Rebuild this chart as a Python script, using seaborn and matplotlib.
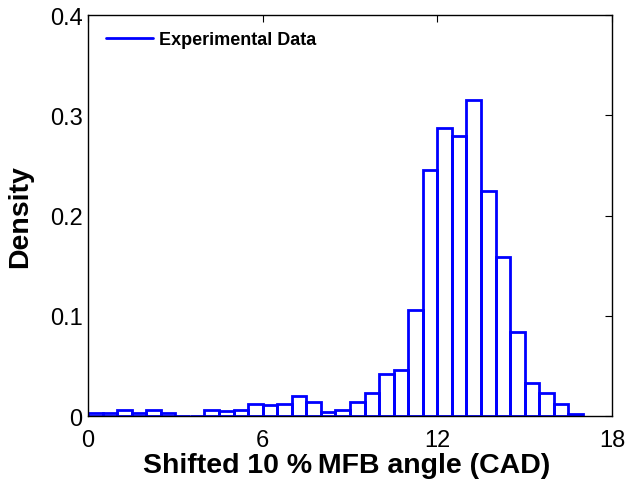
import numpy as np
import pandas as pd
import matplotlib
matplotlib.use("Agg")
import matplotlib.pyplot as plt
from matplotlib.lines import Line2D
import seaborn as sns

# Data (bin edges and density per bin)
bin_edges = [0.0, 0.5, 1.0, 1.5, 2.0, 2.5, 3.0, 3.5, 4.0, 4.5, 5.0, 5.5, 6.0, 6.5,
             7.0, 7.5, 8.0, 8.5, 9.0, 9.5, 10.0, 10.5, 11.0, 11.5, 12.0, 12.5,
             13.0, 13.5, 14.0, 14.5, 15.0, 15.5, 16.0, 16.5, 17.0]
densities = [0.003, 0.003, 0.006, 0.003, 0.006, 0.003, 0.0, 0.0, 0.006, 0.005,
             0.006, 0.012, 0.011, 0.012, 0.020, 0.014, 0.004, 0.006, 0.014, 0.023,
             0.042, 0.046, 0.106, 0.245, 0.287, 0.279, 0.315, 0.224, 0.159, 0.084,
             0.033, 0.023, 0.012, 0.002]
x_ticks = [0, 6, 12, 18]
y_ticks = [0, 0.1, 0.2, 0.3, 0.4]
y_tick_labels = ["0", "0.1", "0.2", "0.3", "0.4"]
legend_label = "Experimental Data"
x_label = "Shifted 10 %\u2009MFB angle (CAD)"
y_label = "Density"

centers = [(a + b) / 2 for a, b in zip(bin_edges[:-1], bin_edges[1:])]
df = pd.DataFrame({"angle": centers, "density": densities})

sns.set_style("white")
plt.rcParams["font.family"] = ["Liberation Sans", "DejaVu Sans"]
plt.rcParams["text.color"] = "black"
plt.rcParams["axes.labelcolor"] = "black"
plt.rcParams["xtick.color"] = "black"
plt.rcParams["ytick.color"] = "black"

fig = plt.figure(figsize=(6.26, 4.85), dpi=100)
ax = fig.add_axes([0.1406, 0.1402, 0.8370, 0.8268])

sns.histplot(data=df, x="angle", weights="density", bins=bin_edges, stat="count",
             fill=False, element="bars", color="#0000ff", linewidth=2.0, ax=ax)

ax.set_xlim(0, 18)
ax.set_ylim(0, 0.4)
ax.set_xticks(x_ticks)
ax.set_xticklabels([str(t) for t in x_ticks])
ax.set_yticks(y_ticks)
ax.set_yticklabels(y_tick_labels)
ax.tick_params(direction="in", length=5, width=0.8, top=True, right=True,
               labelsize=17, colors="black")
ax.tick_params(axis="x", pad=9)
ax.tick_params(axis="y", pad=4)
for s in ax.spines.values():
    s.set_visible(True)
    s.set_color("black")
    s.set_linewidth(1.0)

ax.set_xlabel(x_label, fontsize=20.5, fontweight="bold")
ax.set_ylabel(y_label, fontsize=20.5, fontweight="bold")
ax.xaxis.set_label_coords(0.494, -0.089)
ax.yaxis.set_label_coords(-0.105, 0.5)

handle = Line2D([0], [0], color="#0000ff", linewidth=2.0)
leg = ax.legend([handle], [legend_label], loc="upper left", frameon=False,
                prop={"size": 13, "weight": "bold"}, handlelength=2.6,
                handletextpad=0.33, borderaxespad=0.0, borderpad=0.0,
                bbox_to_anchor=(0.0344, 0.959))

fig.savefig("out.png", dpi=100)
